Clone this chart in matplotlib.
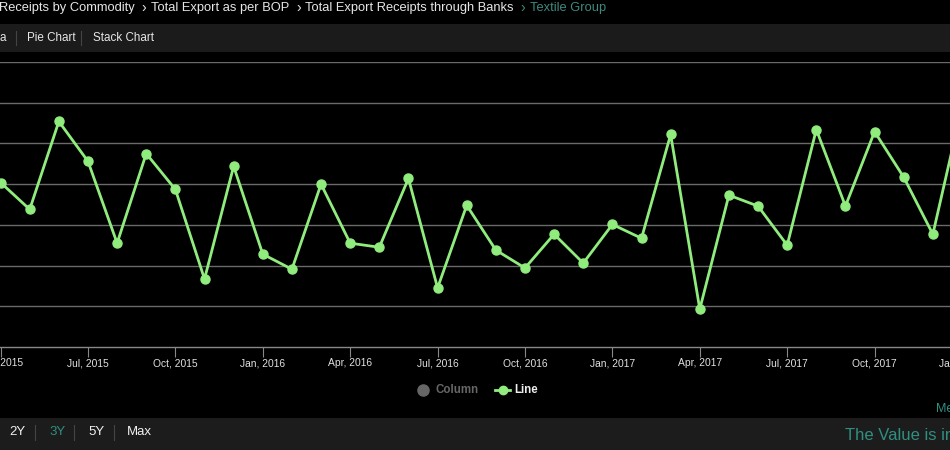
import matplotlib.pyplot as plt
from matplotlib.patches import Rectangle

# Textile Group export receipts, monthly Apr 2015 .. Jan 2018 (arbitrary units)
months = ["Apr, 2015", "May, 2015", "Jun, 2015", "Jul, 2015", "Aug, 2015", "Sep, 2015",
          "Oct, 2015", "Nov, 2015", "Dec, 2015", "Jan, 2016", "Feb, 2016", "Mar, 2016",
          "Apr, 2016", "May, 2016", "Jun, 2016", "Jul, 2016", "Aug, 2016", "Sep, 2016",
          "Oct, 2016", "Nov, 2016", "Dec, 2016", "Jan, 2017", "Feb, 2017", "Mar, 2017",
          "Apr, 2017", "May, 2017", "Jun, 2017", "Jul, 2017", "Aug, 2017", "Sep, 2017",
          "Oct, 2017", "Nov, 2017", "Dec, 2017", "Jan, 2018"]
values = [404, 338, 554, 456, 255, 475, 387, 167, 444, 228, 191, 400,
          255, 245, 414, 145, 348, 238, 194, 277, 206, 301, 267, 522,
          93, 373, 346, 250, 534, 346, 529, 417, 277, 590]
tick_every = 3

breadcrumb = ["Receipts by Commodity", "Total Export as per BOP",
              "Total Export Receipts through Banks"]
breadcrumb_last = "Textile Group"
tabs = ["a", "Pie Chart", "Stack Chart"]
ranges = ["2Y", "3Y", "5Y", "Max"]

W, H = 950, 450
GREEN = "#90ed7d"
TEAL = "#2f8f80"

plt.rcParams["font.family"] = ["Liberation Sans", "DejaVu Sans"]

fig = plt.figure(figsize=(W / 100, H / 100), dpi=100, facecolor="black")


def fx(x):
    return x / W


def fy(y):
    return 1 - y / H


def band(y0, y1, color):
    fig.add_artist(Rectangle((0, fy(y1)), 1, (y1 - y0) / H, transform=fig.transFigure,
                             facecolor=color, edgecolor="none", zorder=0))


# top breadcrumb
x = -1
for i, part in enumerate(breadcrumb):
    if i > 0:
        fig.text(fx(x), fy(8), "›", color="#e6e6e6", fontsize=10, va="center", ha="left")
        x += 9
    t = fig.text(fx(x), fy(8), part, color="#e6e6e6", fontsize=9.3, va="center", ha="left")
    fig.canvas.draw()
    x = t.get_window_extent().x1 + 7
fig.text(fx(x), fy(8), "›", color="#3e8a7f", fontsize=10, va="center", ha="left")
fig.text(fx(x + 9), fy(8), breadcrumb_last, color="#3e8a7f", fontsize=9.3,
         va="center", ha="left")

# tab bar
band(24, 52, "#1b1b1b")
tab_x = [0, 27, 93]
for tx, label in zip(tab_x, tabs):
    fig.text(fx(tx), fy(38), label, color="#e6e6e6", fontsize=8.4, va="center", ha="left")
for sx in [16, 81]:
    fig.add_artist(plt.Line2D([fx(sx), fx(sx)], [fy(31), fy(45)], color="#444444", lw=0.8))

# chart
ax = fig.add_axes([0, fy(347), 1, (347 - 62) / H])
ax.set_facecolor("black")
idx = list(range(len(values)))
ax.plot(idx, values, color=GREEN, lw=2, marker="o", markersize=6.5, zorder=3)
ax.set_yticks(range(100, 701, 100))
ax.set_ylim(0, 700)
ax.yaxis.grid(True, color="#6a6a6a", lw=1)
ax.set_axisbelow(True)
ax.set_xticks(idx[::tick_every])
ax.set_xticklabels(months[::tick_every], color="#e0e0e0", fontsize=7.4)
step = 874 / 30
ax.set_xlim(-0.02, W / step - 0.02)
ax.tick_params(axis="x", colors="#888888", length=7, width=0.8, pad=1, labelcolor="#e0e0e0")
ax.tick_params(axis="y", left=False, labelleft=False)
for s in ["top", "left", "right"]:
    ax.spines[s].set_visible(False)
ax.spines["bottom"].set_color("#888888")
ax.spines["bottom"].set_linewidth(1)
# last tick label sits past the right edge and is only partly visible
last = idx[::tick_every][-1]
ax.annotate(months[last], xy=(last, 0), xycoords=ax.get_xaxis_transform(),
            xytext=(0, -8.6), textcoords="offset points", ha="center", va="top",
            color="#e0e0e0", fontsize=7.4, annotation_clip=False)

# legend
fig.add_artist(plt.Line2D([fx(423)], [fy(390)], marker="o", markersize=8, color="#666666",
                          linestyle="none"))
fig.text(fx(436), fy(390), "Column", color="#666666", fontsize=8.3, fontweight="bold",
         va="center", ha="left")
fig.add_artist(plt.Line2D([fx(495), fx(510)], [fy(390), fy(390)], color=GREEN, lw=2))
fig.add_artist(plt.Line2D([fx(502.5)], [fy(390)], color=GREEN, marker="o", markersize=6,
                          linestyle="none"))
fig.text(fx(514), fy(390), "Line", color="#eeeeee", fontsize=8.3, fontweight="bold",
         va="center", ha="left")

fig.text(fx(936), fy(409), "Me", color=TEAL, fontsize=9, va="center", ha="left")

# bottom range bar
band(418, 450, "#1c1c1c")
range_x = [9, 49, 88, 127]
for rx, label in zip(range_x, ranges):
    col = TEAL if label == "3Y" else "#f0f0f0"
    fig.text(fx(rx), fy(432), label, color=col, fontsize=9.5, va="center", ha="left")
for sx in [35, 74, 114]:
    fig.add_artist(plt.Line2D([fx(sx), fx(sx)], [fy(425), fy(440)], color="#444444", lw=0.8))
fig.text(fx(845), fy(436), "The Value is in", color=TEAL, fontsize=12, va="center", ha="left")

fig.savefig("out.png", dpi=100, facecolor="black")
